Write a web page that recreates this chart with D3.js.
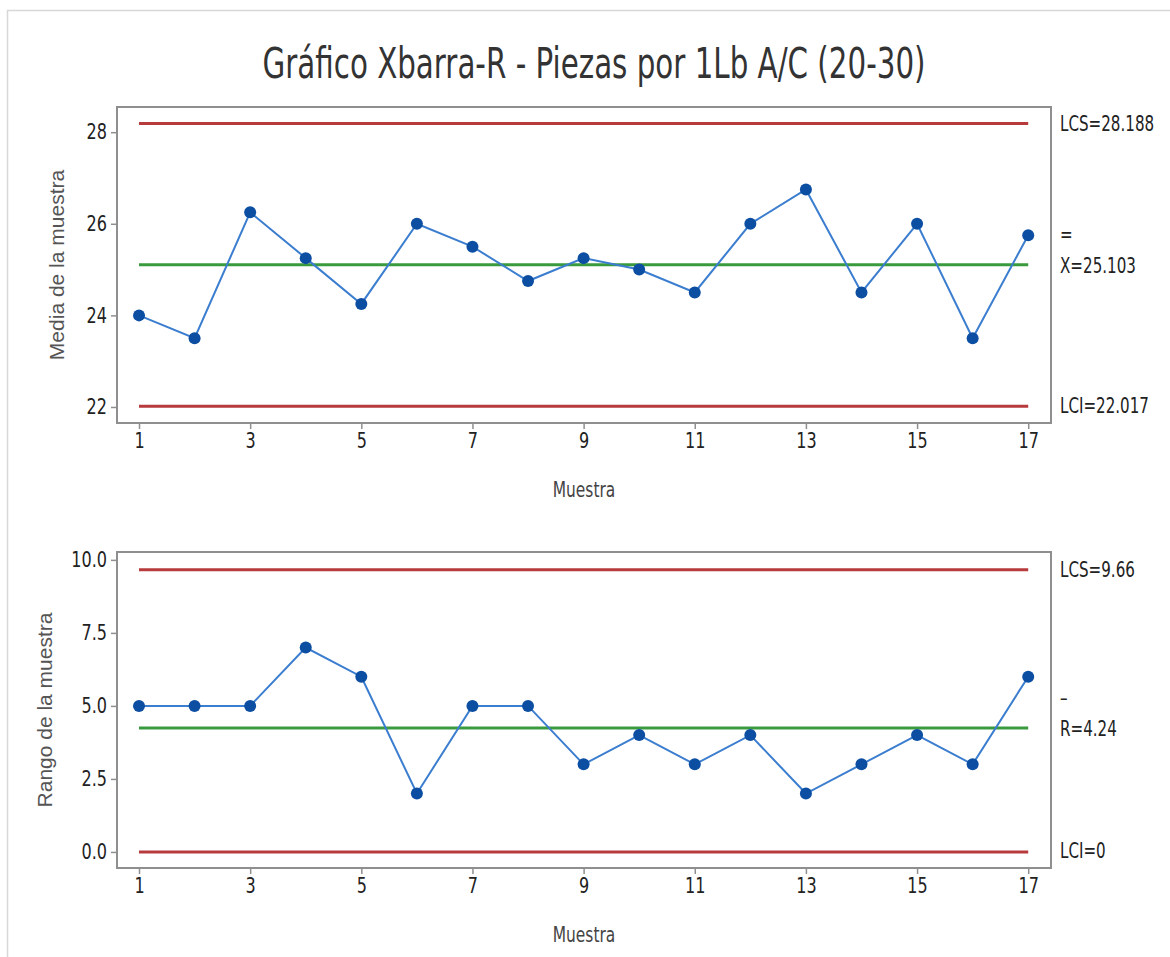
<!DOCTYPE html>
<html>
<head>
<meta charset="utf-8">
<script src="https://cdn.jsdelivr.net/npm/d3@7"></script>
<style>
  body { margin: 0; background: #fff; }
  svg { display: block; }
  .narrow { font-family: "Liberation Sans Narrow", "DejaVu Sans Condensed", "Arial Narrow", sans-serif; }
</style>
</head>
<body>
<div id="chart"></div>
<script>
// Data
const samples = [1, 2, 3, 4, 5, 6, 7, 8, 9, 10, 11, 12, 13, 14, 15, 16, 17];
const xbarValues = [24.0, 23.5, 26.25, 25.25, 24.25, 26.0, 25.5, 24.75, 25.25, 25.0, 24.5, 26.0, 26.75, 24.5, 26.0, 23.5, 25.75];
const rangeValues = [5, 5, 5, 7, 6, 2, 5, 5, 3, 4, 3, 4, 2, 3, 4, 3, 6];
const xbarLimits = [28.188, 25.103, 22.017];   // LCS, center, LCI
const rangeLimits = [9.66, 4.24, 0];
const xTicks = [1, 3, 5, 7, 9, 11, 13, 15, 17];
const xbarTicks = [22, 24, 26, 28];
const rangeTicks = [0, 2.5, 5, 7.5, 10];

const width = 1170, height = 957;
const left = 117, right = 1051;

const svg = d3.select("#chart").append("svg")
    .attr("width", width)
    .attr("height", height);

// squeeze a text horizontally, the reference font is very condensed
function squeeze(sel, k) {
    sel.each(function() {
        const len = this.getComputedTextLength();
        d3.select(this)
            .attr("textLength", len * k)
            .attr("lengthAdjust", "spacingAndGlyphs");
    });
}

// light outer frame
svg.append("rect")
    .attr("x", 7.5).attr("y", 10.5)
    .attr("width", 1200).attr("height", 1000)
    .attr("fill", "none")
    .attr("stroke", "#d8d8d8")
    .attr("stroke-width", 1.5);

svg.append("text")
    .attr("class", "narrow")
    .attr("x", 594).attr("y", 78)
    .attr("text-anchor", "middle")
    .attr("font-size", 42)
    .attr("fill", "#333")
    .attr("textLength", 663)
    .attr("lengthAdjust", "spacingAndGlyphs")
    .text("Gráfico Xbarra-R - Piezas por 1Lb A/C (20-30)");

const x = d3.scaleLinear().domain([0.604, 17.41]).range([left, right]);

function panel(opts) {
    const y = d3.scaleLinear().domain(opts.domain).range([opts.bottom, opts.top]);
    const g = svg.append("g");

    // frame
    g.append("rect")
        .attr("x", left).attr("y", opts.top)
        .attr("width", right - left).attr("height", opts.bottom - opts.top)
        .attr("fill", "none")
        .attr("stroke", "#8f8f8f")
        .attr("stroke-width", 2);

    // axes
    const yAxis = g.append("g")
        .attr("transform", `translate(${left},0)`)
        .call(d3.axisLeft(y).tickValues(opts.ticks).tickFormat(opts.fmt).tickSize(6).tickPadding(4));
    const xAxis = g.append("g")
        .attr("transform", `translate(0,${opts.bottom})`)
        .call(d3.axisBottom(x).tickValues(xTicks).tickFormat(d3.format("d")).tickSize(6).tickPadding(4));
    [yAxis, xAxis].forEach(a => {
        a.select(".domain").remove();
        a.selectAll(".tick line").attr("stroke", "#8f8f8f").attr("stroke-width", 1.5);
        a.selectAll(".tick text")
            .attr("class", "narrow")
            .attr("font-size", 21)
            .attr("fill", "#222")
            .call(squeeze, 0.85);
    });

    // control limits
    const limitColors = ["#b73a3c", "#3a9b3e", "#b73a3c"];
    g.selectAll(".limit")
        .data(opts.limits)
        .join("line")
        .attr("x1", x(samples[0]))
        .attr("x2", x(samples[samples.length - 1]))
        .attr("y1", d => y(d))
        .attr("y2", d => y(d))
        .attr("stroke", (d, i) => limitColors[i])
        .attr("stroke-width", 3);

    // series
    g.append("path")
        .datum(opts.values)
        .attr("fill", "none")
        .attr("stroke", "#3b7dcf")
        .attr("stroke-width", 2)
        .attr("d", d3.line().x((d, i) => x(samples[i])).y(d => y(d)));

    g.selectAll(".pt")
        .data(opts.values)
        .join("circle")
        .attr("cx", (d, i) => x(samples[i]))
        .attr("cy", d => y(d))
        .attr("r", 6)
        .attr("fill", "#0b4ea2");

    // right labels
    const lab = (txt, yy) => g.append("text")
        .attr("class", "narrow")
        .attr("x", 1060).attr("y", yy)
        .attr("dy", "0.35em")
        .attr("font-size", 21)
        .attr("fill", "#222")
        .text(txt)
        .call(squeeze, 0.8);
    lab(opts.labels[0], y(opts.limits[0]));
    lab(opts.bar, y(opts.limits[1]) - 30);
    lab(opts.labels[1], y(opts.limits[1]) + 1);
    lab(opts.labels[2], y(opts.limits[2]) - 1);

    // axis titles
    g.append("text")
        .attr("transform", `translate(${opts.ytx},${(opts.top + opts.bottom) / 2}) rotate(-90)`)
        .attr("text-anchor", "middle")
        .attr("dy", "0.35em")
        .attr("font-family", "'Liberation Sans', sans-serif")
        .attr("font-size", 21)
        .attr("fill", "#555")
        .text(opts.ytitle);
    g.append("text")
        .attr("class", "narrow")
        .attr("x", (left + right) / 2)
        .attr("y", opts.bottom + 74)
        .attr("text-anchor", "middle")
        .attr("font-size", 22)
        .attr("fill", "#444")
        .text("Muestra")
        .call(squeeze, 0.78);
}

panel({
    top: 107, bottom: 423, domain: [21.65, 28.55],
    ticks: xbarTicks, fmt: d3.format("d"),
    values: xbarValues, limits: xbarLimits,
    labels: ["LCS=28.188", "X=25.103", "LCI=22.017"], bar: "=",
    ytitle: "Media de la muestra", ytx: 57
});

panel({
    top: 552, bottom: 868, domain: [-0.55, 10.27],
    ticks: rangeTicks, fmt: d3.format(".1f"),
    values: rangeValues, limits: rangeLimits,
    labels: ["LCS=9.66", "R=4.24", "LCI=0"], bar: "–",
    ytitle: "Rango de la muestra", ytx: 45
});
</script>
</body>
</html>
